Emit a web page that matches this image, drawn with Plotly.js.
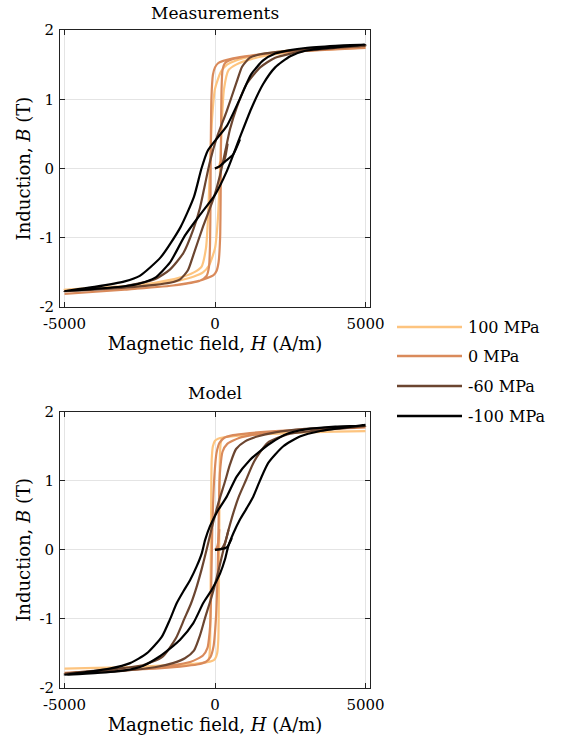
<!DOCTYPE html>
<html><head><meta charset="utf-8">
<script src="https://cdn.plot.ly/plotly-3.0.1.min.js"></script>
<style>html,body{margin:0;padding:0;background:#fff}</style>
</head><body><div id="chart" style="width:562px;height:740px"></div>
<script>
// ---------- series ----------
const seriesNames = ['100 MPa', '0 MPa', '-60 MPa', '-100 MPa'];
const seriesColors = ['#fdc47f', '#d98a5b', '#6b4530', '#000000'];
const panelTitles = ['Measurements', 'Model'];
const xTickVals = [-5000, 0, 5000];
const xTickText = ['-5000', '0', '5000'];
const yTickVals = [-2, -1, 0, 1, 2];
const yTickText = ['-2', '-1', '0', '1', '2'];

// ---------- Measurements (loop = descending branch then ascending branch) ----------
const meas100_H = [5000,3000,2000,1200,700,400,200,0,-100,-170,-230,-300,-450,-700,-1200,-2000,-3000,-5000,
                   -3000,-2000,-1200,-700,-400,-200,0,100,170,230,300,450,700,1200,2000,3000,5000];
const meas100_B = [1.76,1.72,1.68,1.62,1.56,1.5,1.4,1.15,0.7,0,-0.7,-1.15,-1.42,-1.5,-1.58,-1.65,-1.70,-1.75,
                   -1.72,-1.68,-1.62,-1.56,-1.5,-1.4,-1.15,-0.7,0,0.7,1.15,1.42,1.5,1.58,1.65,1.70,1.75];
const meas100_initH = [0,120,175];
const meas100_initB = [0,0.02,0.1];

const meas0_H = [5000,3000,2000,1200,600,250,100,0,-70,-120,-140,-150,-165,-200,-280,-500,-1400,-3000,-5000,
                 -3000,-1400,-600,-250,-50,50,120,170,190,200,215,250,330,600,1200,2000,3000,5000];
const meas0_B = [1.74,1.70,1.67,1.63,1.59,1.55,1.52,1.46,1.35,1.0,0.3,-0.5,-1.1,-1.42,-1.55,-1.62,-1.69,-1.75,-1.81,
                 -1.75,-1.69,-1.63,-1.58,-1.54,-1.48,-1.35,-1.0,-0.3,0.5,1.1,1.42,1.52,1.58,1.63,1.67,1.70,1.74];
const meas0_initH = [0,150,190];
const meas0_initB = [0,0.03,0.1];

const meas60_H = [5000,4000,3000,2000,1500,1160,900,720,390,55,-166,-332,-500,-720,-1050,-1500,-2000,-3000,-4000,-5000,
                  -4000,-3000,-2000,-1500,-1160,-900,-720,-390,-55,166,332,500,720,1050,1500,2000,3000,4000,5000];
const meas60_B = [1.77,1.75,1.72,1.68,1.65,1.60,1.47,1.25,0.83,0.44,0.10,-0.23,-0.57,-0.88,-1.22,-1.46,-1.60,-1.70,-1.74,-1.77,
                  -1.75,-1.72,-1.68,-1.65,-1.60,-1.47,-1.25,-0.83,-0.44,-0.10,0.23,0.57,0.88,1.22,1.46,1.60,1.70,1.74,1.77];
const meas60_initH = [0,200,330,420];
const meas60_initB = [0,0.04,0.15,0.36];

const meas100n_H = [5000,4000,3000,2500,2000,1600,1200,800,400,0,-250,-450,-700,-1150,-1800,-2500,-3000,-4000,-5000,
                    -4000,-3000,-2500,-2000,-1500,-1000,-500,0,400,800,1200,1600,2000,2500,3000,4000,5000];
const meas100n_B = [1.79,1.77,1.74,1.71,1.66,1.56,1.36,0.98,0.62,0.40,0.25,0.0,-0.41,-0.85,-1.28,-1.55,-1.63,-1.71,-1.77,
                    -1.74,-1.70,-1.66,-1.58,-1.36,-0.97,-0.67,-0.38,-0.03,0.42,0.86,1.22,1.46,1.62,1.70,1.75,1.79];
const meas100n_initH = [0,150,330,600,830];
const meas100n_initB = [0,0.03,0.1,0.2,0.42];

// ---------- Model ----------
const model100_H = [5000,3000,1500,700,300,100,0,-70,-110,-130,-145,-160,-190,-260,-600,-1500,-3000,-5000,
                    -3000,-1500,-700,-300,-100,0,70,110,130,145,160,190,260,600,1500,3000,5000];
const model100_B = [1.72,1.70,1.67,1.65,1.63,1.61,1.58,1.5,1.3,0.5,-0.5,-1.3,-1.55,-1.62,-1.65,-1.68,-1.70,-1.72,
                    -1.70,-1.67,-1.65,-1.63,-1.61,-1.58,-1.5,-1.3,-0.5,0.5,1.3,1.55,1.62,1.65,1.68,1.70,1.72];
const model100_initH = [0,100,140];
const model100_initB = [0,0.02,0.1];

const model0_H = [5000,3500,2000,1160,600,300,150,50,-30,-90,-120,-150,-180,-250,-400,-800,-1500,-2500,-5000,
                  -3500,-2000,-1160,-600,-300,-150,-50,30,90,120,150,180,250,400,800,1500,2500,5000];
const model0_B = [1.77,1.75,1.72,1.69,1.66,1.62,1.55,1.4,1.0,0.3,-0.4,-1.0,-1.2,-1.42,-1.53,-1.62,-1.68,-1.73,-1.78,
                  -1.75,-1.72,-1.69,-1.66,-1.62,-1.55,-1.4,-1.0,-0.3,0.4,1.0,1.2,1.42,1.53,1.62,1.68,1.73,1.78];
const model0_initH = [0,60,110,140];
const model0_initB = [0,0.03,0.12,0.3];

const model60_H = [5000,4000,3000,2000,1400,1000,700,500,340,100,-100,-280,-450,-620,-800,-1020,-1300,-1750,-2400,-3200,-4200,-5000,
                   -4000,-3000,-2000,-1400,-1000,-700,-500,-340,-100,100,280,450,620,800,1020,1300,1750,2400,3200,4200,5000];
const model60_B = [1.79,1.775,1.75,1.70,1.64,1.57,1.46,1.24,1.0,0.66,0.33,0.0,-0.29,-0.55,-0.78,-1.0,-1.28,-1.55,-1.67,-1.72,-1.76,-1.79,
                   -1.775,-1.75,-1.70,-1.64,-1.57,-1.46,-1.24,-1.0,-0.66,-0.33,0.0,0.29,0.55,0.78,1.0,1.28,1.55,1.67,1.72,1.76,1.79];
const model60_initH = [0,200,330,450];
const model60_initB = [0,0.01,0.1,0.29];

const model100n_H = [5000,4000,3000,2400,1830,1500,1160,720,390,110,-170,-330,-440,-610,-830,-1050,-1270,-1500,-1770,-2270,-2820,-3500,-4300,-5000,
                     -4000,-3000,-2400,-1830,-1500,-1160,-720,-390,-110,170,330,440,610,830,1050,1270,1500,1770,2270,2820,3500,4300,5000];
const model100n_B = [1.80,1.785,1.745,1.68,1.54,1.43,1.30,1.06,0.77,0.58,0.34,0.14,-0.05,-0.24,-0.44,-0.60,-0.77,-1.01,-1.26,-1.50,-1.64,-1.72,-1.77,-1.81,
                     -1.785,-1.745,-1.68,-1.54,-1.43,-1.30,-1.06,-0.77,-0.58,-0.34,-0.14,0.05,0.24,0.44,0.60,0.77,1.01,1.26,1.50,1.64,1.72,1.77,1.81];
const model100n_initH = [0,200,400,560];
const model100n_initB = [0,0.01,0.04,0.17];

// ---------- assemble ----------
const panels = [
  {xa: 'x', ya: 'y', loops: [
    [meas100_H, meas100_B, meas100_initH, meas100_initB],
    [meas0_H, meas0_B, meas0_initH, meas0_initB],
    [meas60_H, meas60_B, meas60_initH, meas60_initB],
    [meas100n_H, meas100n_B, meas100n_initH, meas100n_initB]]},
  {xa: 'x2', ya: 'y2', loops: [
    [model100_H, model100_B, model100_initH, model100_initB],
    [model0_H, model0_B, model0_initH, model0_initB],
    [model60_H, model60_B, model60_initH, model60_initB],
    [model100n_H, model100n_B, model100n_initH, model100n_initB]]}
];

const FONT = 'DejaVu Serif, serif';
const traces = [];
panels.forEach((p, pi) => {
  p.loops.forEach((l, si) => {
    const line = {color: seriesColors[si], width: 2.2, shape: 'spline', smoothing: 0.6};
    traces.push({x: l[2], y: l[3], xaxis: p.xa, yaxis: p.ya, mode: 'lines', line: line,
                 name: seriesNames[si], showlegend: false, hoverinfo: 'skip'});
    traces.push({x: l[0], y: l[1], xaxis: p.xa, yaxis: p.ya, mode: 'lines', line: line,
                 name: seriesNames[si], showlegend: false});
  });
});

const W = 562, H = 740;
const xDom = [60 / W, 370 / W];
function axX(anchor, title) {
  return {domain: xDom, anchor: anchor, range: [-5150, 5150], tickvals: xTickVals, ticktext: xTickText,
    ticks: 'inside', ticklen: 5, tickcolor: '#222', mirror: 'ticks', showline: true, linecolor: '#222', linewidth: 1,
    showgrid: true, gridcolor: '#e4e4e4', gridwidth: 1, zeroline: false, automargin: false, fixedrange: true,
    ticklabelstandoff: 3,
    tickfont: {family: FONT, size: 15, color: '#000'},
    title: {text: title, font: {family: FONT, size: 18, color: '#000'}, standoff: 1}};
}
function axY(anchor, dom, title) {
  return {domain: dom, anchor: anchor, range: [-2, 2], tickvals: yTickVals, ticktext: yTickText,
    ticks: 'inside', ticklen: 5, tickcolor: '#222', mirror: 'ticks', showline: true, linecolor: '#222', linewidth: 1,
    showgrid: true, gridcolor: '#e4e4e4', gridwidth: 1, zeroline: false, automargin: false, fixedrange: true,
    ticklabelstandoff: 2,
    tickfont: {family: FONT, size: 15, color: '#000'},
    title: {text: title, font: {family: FONT, size: 18, color: '#000'}, standoff: 4}};
}
const xTitle = 'Magnetic field, <i>H</i> (A/m)';
const yTitle = 'Induction, <i>B</i> (T)';

const annotations = [
  {text: panelTitles[0], xref: 'paper', yref: 'paper', x: 215 / W, y: 1 - 13 / H, xanchor: 'center', yanchor: 'middle',
   showarrow: false, font: {family: FONT, size: 17, color: '#000'}},
  {text: panelTitles[1], xref: 'paper', yref: 'paper', x: 215 / W, y: 1 - 393 / H, xanchor: 'center', yanchor: 'middle',
   showarrow: false, font: {family: FONT, size: 17, color: '#000'}}
];
const shapes = [];
const legY = [327, 356, 386, 416];
seriesNames.forEach((n, i) => {
  shapes.push({type: 'line', xref: 'paper', yref: 'paper', x0: 397 / W, x1: 462 / W,
    y0: 1 - legY[i] / H, y1: 1 - legY[i] / H, line: {color: seriesColors[i], width: 2.6}});
  annotations.push({text: n, xref: 'paper', yref: 'paper', x: 466 / W, y: 1 - legY[i] / H,
    xanchor: 'left', yanchor: 'middle', showarrow: false, font: {family: FONT, size: 16, color: '#000'}});
});

const layout = {
  width: W, height: H, margin: {l: 0, r: 0, t: 0, b: 0},
  paper_bgcolor: '#fff', plot_bgcolor: '#fff', showlegend: false,
  xaxis: axX('y', xTitle),
  yaxis: axY('x', [1 - 307 / H, 1 - 30 / H], yTitle),
  xaxis2: axX('y2', xTitle),
  yaxis2: axY('x2', [1 - 688 / H, 1 - 411.7 / H], yTitle),
  annotations: annotations, shapes: shapes
};
Plotly.newPlot('chart', traces, layout, {displayModeBar: false, staticPlot: true});
</script></body></html>
